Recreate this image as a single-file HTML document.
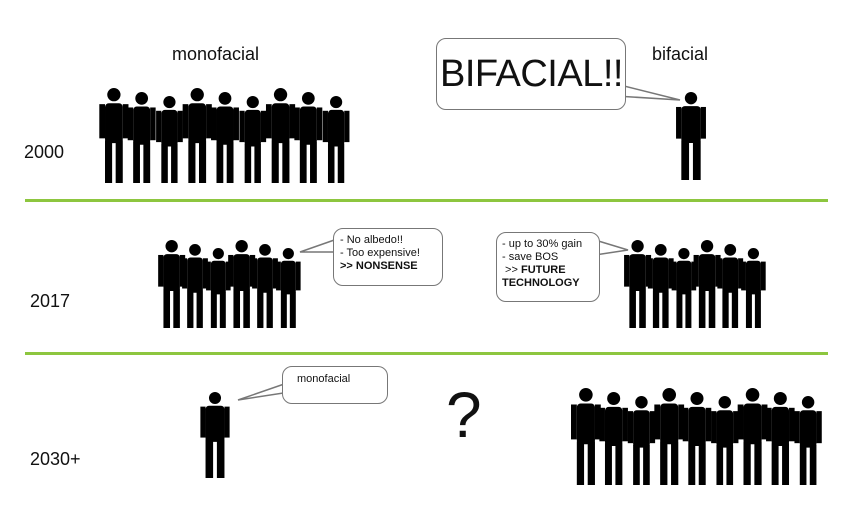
<!DOCTYPE html>
<html><head><meta charset="utf-8"><style>
body{margin:0;background:#fff;width:862px;height:508px;overflow:hidden;font-family:"Liberation Sans",sans-serif}
.t{position:absolute;font-size:18px;color:#111}
.b{position:absolute;border:1.5px solid #777;border-radius:10px;background:#fff;font-size:11px;line-height:13px;color:#111;box-sizing:border-box}
</style></head><body>
<svg id="s" width="862" height="508" style="position:absolute;left:0;top:0">
<rect x="25" y="199" width="803" height="3" fill="#8dc63f"/>
<rect x="25" y="352" width="803" height="3" fill="#8dc63f"/>
<polygon points="600,80 680,100 600,95" fill="#fff" stroke="#777" stroke-width="1.5"/>
<polygon points="340,238 300,252 340,252" fill="#fff" stroke="#777" stroke-width="1.5"/>
<polygon points="595,240 628,250 595,255" fill="#fff" stroke="#777" stroke-width="1.5"/>
<polygon points="290,382 238,400 290,392" fill="#fff" stroke="#777" stroke-width="1.5"/>
<g id="p" fill="#000"></g>
</svg>
<div class="b" style="left:436px;top:38px;width:190px;height:72px;font-size:38px;line-height:70px;padding-left:3px;letter-spacing:-0.5px">BIFACIAL!!</div>
<div class="b" style="left:333px;top:228px;width:110px;height:58px;padding:5px 0 0 6px">- No albedo!!<br>- Too expensive!<br><b>&gt;&gt; NONSENSE</b></div>
<div class="b" style="left:496px;top:232px;width:104px;height:70px;padding:5px 0 0 5px">- up to 30% gain<br>- save BOS<br>&nbsp;&gt;&gt; <b>FUTURE<br>TECHNOLOGY</b></div>
<div class="b" style="left:282px;top:366px;width:106px;height:38px;padding:6px 0 0 14px">monofacial</div>
<div class="t" style="left:172px;top:44px">monofacial</div>
<div class="t" style="left:652px;top:44px">bifacial</div>
<div class="t" style="left:24px;top:142px">2000</div>
<div class="t" style="left:30px;top:291px">2017</div>
<div class="t" style="left:30px;top:449px">2030+</div>
<div class="t" style="left:446px;top:378px;font-size:64px">?</div>
<script>
var g=document.getElementById('p'),h='';
function P(x,t,H,w){w=w||1;var r=H*0.07,tw=H*0.22*w;
h+='<circle cx="'+x+'" cy="'+(t+r)+'" r="'+r+'"/>';
h+='<rect x="'+(x-tw/2)+'" y="'+(t+H*0.16)+'" width="'+tw+'" height="'+H*0.42+'" rx="'+H*0.04+'"/>';
h+='<rect x="'+(x-tw/2)+'" y="'+(t+H*0.55)+'" width="'+tw*0.4+'" height="'+H*0.45+'"/>';
h+='<rect x="'+(x+tw*0.1)+'" y="'+(t+H*0.55)+'" width="'+tw*0.4+'" height="'+H*0.45+'"/>';
h+='<rect x="'+(x-tw/2-H*0.06)+'" y="'+(t+H*0.17)+'" width="'+H*0.06+'" height="'+H*0.36+'"/>';
h+='<rect x="'+(x+tw/2)+'" y="'+(t+H*0.17)+'" width="'+H*0.06+'" height="'+H*0.36+'"/>';}
function C(x0,x1,t,b,n){var s=(x1-x0)/n;for(var i=0;i<n;i++){var tt=t+((i*7)%3)*4;P(x0+s*(i+0.5),tt,b-tt,0.85);}}
C(100,350,88,183,9);
P(691,92,88);
C(160,300,240,328,6);
C(626,765,240,328,6);
P(215,392,86);
C(572,822,388,485,9);
g.innerHTML=h;
</script>
</body></html>
